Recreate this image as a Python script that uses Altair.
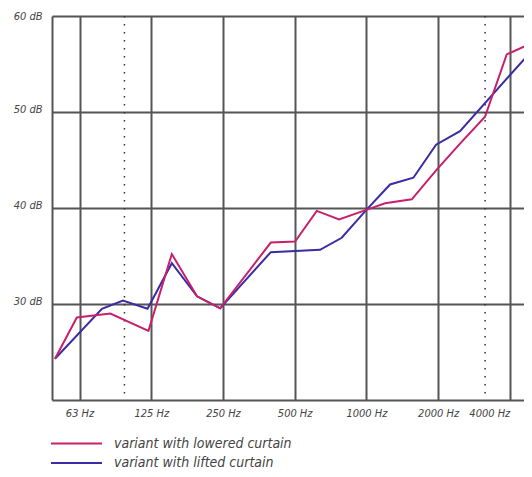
import altair as alt
import pandas as pd

# Data (frequency in Hz, level in dB)
lowered_freq = [49.3, 60.9, 84.2, 121.7, 152.5, 194.6, 243.4, 397, 502, 619, 768, 1000, 1198, 1551, 1974, 2472, 3148, 3882, 4829]
lowered_db = [24.3, 28.6, 29.0, 27.2, 35.2, 30.8, 29.55, 36.4, 36.5, 39.7, 38.8, 39.8, 40.5, 40.9, 44.0, 46.7, 49.5, 56.0, 57.05]
lifted_freq = [49.3, 77.6, 95.1, 120.6, 152.5, 194.6, 243.4, 397, 639, 788, 1000, 1257, 1575, 1961, 2472, 4829]
lifted_db = [24.3, 29.5, 30.35, 29.5, 34.25, 30.8, 29.55, 35.4, 35.65, 36.9, 39.8, 42.45, 43.15, 46.6, 48.0, 56.1]

series_names = ["variant with lowered curtain", "variant with lifted curtain"]
series_colors = ["#c8206a", "#3a2ca4"]

x_tick_values = [62.5, 125, 250, 500, 1000, 2000, 4000]
y_tick_values = [30, 40, 50, 60]
marker_freq = [96.5, 3150]

x_domain = [47.9, 4588]
y_domain = [20, 60]

df = pd.concat([
    pd.DataFrame({"freq": lifted_freq, "db": lifted_db, "series": series_names[1]}),
    pd.DataFrame({"freq": lowered_freq, "db": lowered_db, "series": series_names[0]}),
], ignore_index=True)
markers = pd.DataFrame({"freq": marker_freq})

FONT = "Liberation Sans Narrow, DejaVu Sans Condensed, sans-serif"

x_scale = alt.Scale(type="log", base=2, domain=x_domain, nice=False)
y_scale = alt.Scale(domain=y_domain, nice=False, zero=False)

x_axis = alt.Axis(
    values=x_tick_values,
    labelExpr="datum.value < 100 ? '63 Hz' : datum.value + ' Hz'",
    title=None, ticks=False, grid=True, labelPadding=7, labelFlush=20,
)
y_axis = alt.Axis(
    values=y_tick_values,
    labelExpr="datum.value + ' dB'",
    title=None, ticks=False, grid=True, labelPadding=10,
    labelOffset={"condition": {"test": "datum.value == 60", "value": 0.5}, "value": -3},
)

rules = alt.Chart(markers).mark_rule(
    strokeDash=[1.5, 6.5], strokeWidth=1.5, color="#333"
).encode(x=alt.X("freq:Q", scale=x_scale, axis=x_axis))

lines = alt.Chart(df).mark_line(strokeWidth=2, clip=True).encode(
    x=alt.X("freq:Q", scale=x_scale, axis=x_axis),
    y=alt.Y("db:Q", scale=y_scale, axis=y_axis),
    color=alt.Color(
        "series:N",
        scale=alt.Scale(domain=series_names, range=series_colors),
        legend=alt.Legend(
            orient="none", legendX=17.5, legendY=420.5, title=None,
            symbolType="M-25.5,0H25.5", symbolSize=4, symbolStrokeWidth=2,
            symbolFillColor="transparent",
            labelFont=FONT, labelFontStyle="italic", labelFontSize=14,
            labelColor="#444", labelOffset=30.5, labelLimit=400,
            rowPadding=5.5, direction="vertical", padding=0,
        ),
    ),
)

chart = alt.layer(rules, lines).properties(
    width=472, height=384,
    autosize=alt.AutoSizeParams(type="none"),
    padding={"left": 44, "top": 8, "right": 0, "bottom": 69},
).configure_view(strokeWidth=0).configure_axis(
    domainColor="#555", domainWidth=2,
    gridColor="#555", gridWidth=2, gridOpacity=1,
    labelFont=FONT, labelFontStyle="italic", labelFontSize=11, labelColor="#444",
)

chart.save("out.html", embed_options={"renderer": "svg", "actions": False})
